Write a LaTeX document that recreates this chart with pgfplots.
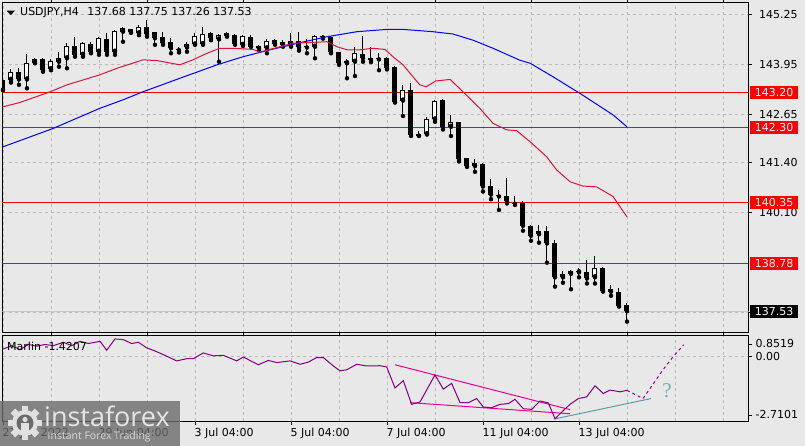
\documentclass[border=0pt]{standalone}
\usepackage{pgfplots}
\pgfplotsset{compat=1.18}
\usepackage{pgfplotstable}
\usepackage{fontspec}
\setmainfont{DejaVu Sans}
\newfontfamily\logofont{Open Sans}
\newfontfamily\qfont{Liberation Serif}
\definecolor{bg}{RGB}{232,232,232}
\definecolor{gridc}{RGB}{188,188,188}
\definecolor{macrim}{RGB}{220,20,60}
\definecolor{osc}{RGB}{128,0,128}
\definecolor{tealg}{RGB}{95,158,160}
\definecolor{qcol}{RGB}{120,175,178}
\newcommand{\lab}{\fontsize{11bp}{13bp}\selectfont}

\pgfplotstableread{
i O H L C
0 143.54 143.58 143.27 143.29
1 143.54 143.81 143.47 143.75
2 143.75 143.84 143.41 143.55
3 143.55 144.21 143.32 143.99
4 143.99 144.10 143.97 144.07
5 144.08 144.10 143.75 143.79
6 143.82 144.07 143.79 144.03
7 144.01 144.27 143.88 144.10
8 144.10 144.49 143.84 144.42
9 144.42 144.66 144.14 144.19
10 144.19 144.53 144.14 144.49
11 144.47 144.51 144.23 144.25
12 144.27 144.66 144.19 144.62
13 144.59 144.75 144.19 144.27
14 144.27 144.83 144.19 144.81
15 144.79 144.92 144.53 144.88
16 144.85 144.86 144.76 144.77
17 144.75 144.96 144.70 144.90
18 144.92 145.09 144.66 144.72
19 144.77 144.79 144.45 144.62
20 144.64 144.77 144.45 144.49
21 144.51 144.62 144.23 144.36
22 144.33 144.38 144.25 144.31
23 144.38 144.51 144.27 144.46
24 144.46 144.75 144.45 144.68
25 144.47 144.92 144.45 144.72
26 144.75 144.77 144.57 144.62
27 144.59 144.72 144.01 144.70
28 144.75 144.77 144.66 144.69
29 144.70 144.72 144.45 144.47
30 144.45 144.70 144.42 144.68
31 144.66 144.70 144.40 144.40
32 144.42 144.45 144.31 144.36
33 144.36 144.59 144.23 144.55
34 144.57 144.59 144.45 144.47
35 144.51 144.57 144.40 144.45
36 144.46 144.75 144.40 144.56
37 144.55 144.77 144.30 144.38
38 144.43 144.59 144.23 144.38
39 144.40 144.70 144.10 144.68
40 144.69 144.71 144.61 144.64
41 144.66 144.68 144.23 144.25
42 144.27 144.27 143.93 143.97
43 143.97 144.08 143.58 144.03
44 144.01 144.38 143.64 144.23
45 144.21 144.69 144.01 144.10
46 144.12 144.38 144.00 144.06
47 144.10 144.23 143.79 144.07
48 144.12 144.14 143.81 143.84
49 143.88 143.90 142.95 142.97
50 143.00 143.41 142.60 143.28
51 143.28 143.45 142.08 142.11
52 142.13 142.22 142.08 142.09
53 142.13 142.57 142.12 142.51
54 142.51 143.02 142.45 143.00
55 143.02 143.03 142.25 142.32
56 142.32 142.63 142.08 142.44
57 142.44 142.45 141.42 141.48
58 141.50 141.50 141.28 141.29
59 141.30 141.48 141.15 141.37
60 141.35 141.37 140.64 140.77
61 140.78 140.96 140.44 140.56
62 140.55 140.68 140.16 140.51
63 140.51 141.00 140.33 140.38
64 140.35 140.51 140.29 140.32
65 140.35 140.38 139.62 139.75
66 139.74 139.77 139.36 139.49
67 139.53 139.77 139.31 139.62
68 139.61 139.74 138.79 139.29
69 139.31 139.38 138.17 138.41
70 138.41 138.58 138.27 138.49
71 138.50 138.60 138.10 138.58
72 138.54 138.66 138.41 138.56
73 138.56 138.86 138.25 138.38
74 138.41 138.96 138.25 138.64
75 138.66 138.69 138.04 138.06
76 138.11 138.21 137.93 138.04
77 138.02 138.13 137.65 137.67
78 137.68 137.75 137.26 137.53
}\candles

\pgfplotstableread{
i v
0 142.84
2.1 142.95
5.9 143.23
8 143.41
12.1 143.67
14.25 143.84
17.5 144.06
19.25 144.04
22.1 143.93
23.75 144.06
25.5 144.23
27.1 144.36
28.75 144.36
31.25 144.33
32.1 144.26
36.25 144.49
40.5 144.53
41.75 144.40
43 144.32
44.6 144.32
46.25 144.36
47.75 144.33
48.75 144.14
50 143.93
51.25 143.62
52.1 143.41
52.9 143.36
54.1 143.51
55.9 143.55
57.5 143.23
59.6 142.80
61.25 142.41
62.96 142.24
64.2 142.22
65.9 141.93
67.96 141.54
69.2 141.20
70.9 140.89
72.5 140.78
74.2 140.76
76.25 140.51
78 139.98
}\maA

\pgfplotstableread{
i v
0 141.80
6.3 142.28
8.75 142.50
12.1 142.80
15 143.02
17.5 143.23
22.1 143.58
26.75 143.93
30 144.14
33.4 144.32
37 144.50
40.5 144.66
44.25 144.79
48 144.85
50 144.85
53.75 144.79
56.25 144.73
58.75 144.57
61.25 144.36
64.6 144.05
65.9 143.97
68.75 143.62
72.1 143.19
76.25 142.63
78 142.32
}\maB

\pgfplotstableread{
i v
0.04 0.29
1.08 0.43
2.13 0.27
3.17 0.48
4.21 0.41
5.25 0.48
6.29 0.43
7.54 0.57
8.58 0.43
9.63 0.61
10.67 0.52
12.13 0.61
12.96 0.24
14.0 0.71
15.04 0.68
16.08 0.52
16.92 0.57
17.96 0.34
18.79 0.24
20.04 0.06
21.71 -0.20
22.96 -0.11
23.79 -0.11
25.04 0.13
26.29 0.01
27.54 0.03
29.21 -0.20
30.04 -0.04
31.92 -0.36
33.17 -0.18
34.21 -0.27
35.88 -0.20
37.13 -0.34
38.17 -0.25
39.21 -0.06
40.04 -0.06
41.29 -0.41
42.13 -0.61
42.96 -0.57
44.21 -0.34
45.46 -0.41
47.13 -0.40
47.96 -0.45
49.0 -1.32
50.04 -1.02
51.08 -2.00
52.13 -1.90
54.0 -0.78
55.04 -1.37
56.08 -1.13
57.13 -1.93
58.17 -1.93
59.21 -1.76
60.04 -2.11
61.08 -2.14
62.13 -2.00
63.17 -1.97
64.0 -1.79
65.04 -2.18
66.08 -2.21
67.13 -1.86
68.17 -1.94
69.0 -2.60
69.83 -2.32
70.88 -2.00
71.92 -1.76
72.96 -1.69
74.0 -1.23
75.04 -1.55
75.88 -1.41
77.13 -1.48
78.0 -1.42
}\marlin

\begin{document}
\begin{tikzpicture}[x=1bp,y=1bp]
\useasboundingbox (0,0) rectangle (805,446);
\fill[bg] (0,0) rectangle (805,446);

% ---------------- main price panel ----------------
\begin{axis}[
  at={(2.5bp,113bp)}, anchor=south west,
  scale only axis, width=746bp, height=330.5bp,
  xmin=-0.0625, xmax=93.19, ymin=136.964, ymax=145.549,
  axis line style={black, line width=1bp},
  clip mode=individual,
  xtick={0,12,...,84}, minor xtick={6,18,...,90},
  xticklabels={},
  xmajorticks=false, xminorticks=false,
  ytick={137.50,140.10,141.40,142.65,143.95,145.25},
  yticklabels={,140.10,141.40,142.65,143.95,145.25},
  ytick pos=right, yticklabel pos=right,
  tick align=outside, major tick length=3.5bp,
  tick style={black, line width=0.8bp},
  yticklabel style={font=\lab, anchor=west, inner sep=0pt, xshift=7bp},
  grid=both,
  major grid style={gridc, dash pattern=on 3bp off 3bp, line width=0.8bp},
  minor grid style={gridc, dash pattern=on 3bp off 3bp, line width=0.8bp},
]
% bid line
\addplot[black!22, line width=0.9bp] coordinates {(-1,137.53) (95,137.53)};
% horizontal levels
\addplot[red, line width=1.1bp] coordinates {(-1,143.20) (95,143.20)};
\addplot[red, line width=1.1bp] coordinates {(-1,142.30) (95,142.30)};
\addplot[red, line width=1.1bp] coordinates {(-1,140.35) (95,140.35)};
\addplot[red, line width=1.1bp] coordinates {(-1,138.78) (95,138.78)};
% wicks
\addplot[only marks, mark=none, error bars/.cd, y dir=plus, y explicit, error mark=none,
  error bar style={draw=black, line width=1bp, solid}]
  table[x=i, y=L, y error plus expr={\thisrow{H}-\thisrow{L}}] {\candles};
% bodies (outline / black fill)
\addplot[only marks, mark=none, error bars/.cd, y dir=plus, y explicit, error mark=none,
  error bar style={draw=black, line width=5bp, solid}]
  table[x=i, y expr={min(\thisrow{O},\thisrow{C})}, y error plus expr={max(abs(\thisrow{C}-\thisrow{O}),0.026)}] {\candles};
% white bodies
\addplot[only marks, mark=none, error bars/.cd, y dir=plus, y explicit, error mark=none,
  error bar style={draw=white, line width=3bp, solid}]
  table[x=i, y expr={\thisrow{C}>\thisrow{O} ? \thisrow{O}+0.026 : nan}, y error plus expr={max(\thisrow{C}-\thisrow{O}-0.052,0)}] {\candles};
% moving averages
\addplot[blue, line width=1bp] table[x=i, y=v] {\maB};
\addplot[macrim, line width=1bp] table[x=i, y=v] {\maA};
\coordinate (r1) at (axis cs:93.19,143.20);
\coordinate (r2) at (axis cs:93.19,142.30);
\coordinate (r3) at (axis cs:93.19,140.35);
\coordinate (r4) at (axis cs:93.19,138.78);
\coordinate (r5) at (axis cs:93.19,137.53);
\coordinate (tl) at (rel axis cs:0,1);
\end{axis}

\foreach \c/\t in {r1/143.20, r2/142.30, r3/140.35, r4/138.78}{
  \node[fill=red, text=white, anchor=west, inner xsep=4.6bp, inner ysep=0pt,
        minimum height=13bp, font=\lab, xshift=1.5bp] at (\c) {\t};
}
\node[fill=black, text=white, anchor=west, inner xsep=4.6bp, inner ysep=0pt,
      minimum height=13bp, font=\lab, xshift=1.5bp] at (r5) {137.53};

% title
\node[anchor=west, inner sep=0pt, font=\lab] at ([xshift=17.5bp, yshift=-10.5bp]tl)
  {USDJPY,H4\hspace{5bp} 137.68 137.75 137.26 137.53};
\fill[black] (6.7,435.3) -- (15,435.3) -- (10.85,431) -- cycle;

% ---------------- Marlin panel ----------------
\begin{axis}[
  at={(2.5bp,24.5bp)}, anchor=south west,
  scale only axis, width=746bp, height=86bp,
  xmin=-0.0625, xmax=93.19, ymin=-2.7101, ymax=0.8519,
  axis line style={black, line width=1bp},
  clip mode=individual,
  xtick={0,12,...,72}, minor xtick={6,18,30,42,54,66,78,84,90},
  xticklabels={27 Jun 2022, 29 Jun 04:00, 3 Jul 04:00, 5 Jul 04:00, 7 Jul 04:00, 11 Jul 04:00, 13 Jul 04:00},
  xtick pos=left, ytick pos=right, yticklabel pos=right,
  tick align=outside, major tick length=3.5bp, minor tick length=0pt,
  tick style={black, line width=0.8bp},
  xticklabel style={font=\lab, anchor=north west, inner sep=0pt, yshift=-3bp, xshift=-0.5bp},
  ytick={0}, yticklabels={0.00},
  extra y ticks={0.50,-2.44}, extra y tick labels={0.8519,-2.7101},
  extra y tick style={grid=none},
  yticklabel style={font=\lab, anchor=west, inner sep=0pt, xshift=3.5bp},
  grid=both,
  major grid style={gridc, dash pattern=on 3bp off 3bp, line width=0.8bp},
  minor grid style={gridc, dash pattern=on 3bp off 3bp, line width=0.8bp},
]
\addplot[magenta, line width=1bp] coordinates {(49,-0.36) (70.9,-2.22)};
\addplot[magenta, line width=1bp] coordinates {(50.9,-1.93) (70.9,-2.39)};
\addplot[tealg, line width=1bp] coordinates {(69,-2.60) (81,-1.76)};
\addplot[osc, line width=1bp] table[x=i, y=v] {\marlin};
\addplot[osc!80!magenta, line width=1bp, dash pattern=on 3bp off 3bp]
  coordinates {(78,-1.42) (80,-1.76) (82.5,-0.57) (83.8,-0.01) (85.1,0.47)};
\node[text=qcol, font=\qfont\fontsize{21bp}{23bp}\selectfont] at (axis cs:83,-1.45) {?};
\node[anchor=west, inner sep=0pt, font=\lab] at ([xshift=4.5bp, yshift=-10.5bp]rel axis cs:0,1) {Marlin -1.4207};
\end{axis}

% ---------------- watermark ----------------
\fill[black!58, opacity=0.8] (0,0) rectangle (180,45);
\begin{scope}[shift={(25,23)}, white!88!black]
  \foreach \a in {0,45,...,315} \fill[rotate=\a] (-3.2,9) rectangle (3.2,17);
  \fill (0,0) circle (13);
  \fill[black!58] (0,0) circle (8.5);
  \fill (0,3.5) circle (2.6);
  \fill (-3.8,-9) rectangle (3.8,0);
\end{scope}
\node[anchor=base west, inner sep=0pt, text=white!90!black, font=\logofont\fontsize{27bp}{29bp}\selectfont] at (44,19.3) {instaforex};
\node[anchor=west, inner sep=0pt, text=white!85!black, font=\logofont\fontsize{10.5bp}{12bp}\selectfont] at (47.5,9) {Instant Forex Trading};
\end{tikzpicture}
\end{document}
